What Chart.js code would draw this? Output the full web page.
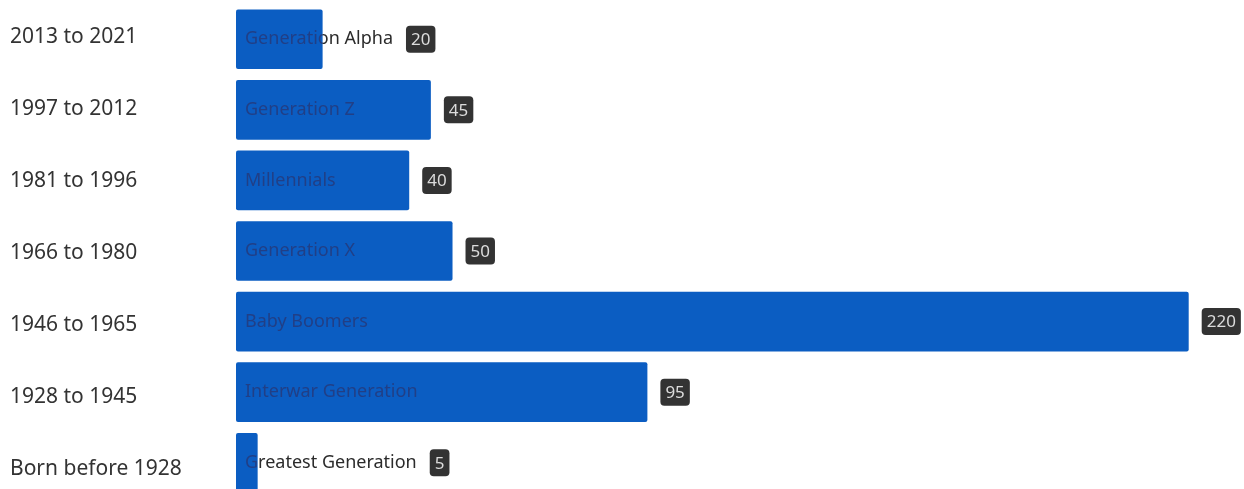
<!DOCTYPE html>
<html>
<head>
<meta charset="utf-8">
<title>Generations</title>
<script src="https://cdn.jsdelivr.net/npm/chart.js@4.4.1/dist/chart.umd.min.js"></script>
<style>
  html, body { margin: 0; padding: 0; background: #fff; overflow: hidden; }
  #wrap { width: 1244px; height: 498px; position: relative; }
</style>
</head>
<body>
<div id="wrap"><canvas id="generations"></canvas></div>
<script>
// birth year ranges, generation names and counts, top to bottom
var periods = [
  "2013 to 2021",
  "1997 to 2012",
  "1981 to 1996",
  "1966 to 1980",
  "1946 to 1965",
  "1928 to 1945",
  "Born before 1928"
];
var generations = [
  "Generation Alpha",
  "Generation Z",
  "Millennials",
  "Generation X",
  "Baby Boomers",
  "Interwar Generation",
  "Greatest Generation"
];
var counts = [20, 45, 40, 50, 220, 95, 5];

var barBlue = "#0b5dc2";
// range of the year-label axis (index units), a bit wider spacing than the bars
var periodMin = -0.458;
var periodMax = 6.403;

// writes the generation name over each bar and a dark value badge after it
var barLabels = {
  id: "barLabels",
  afterDatasetsDraw: function (chart) {
    var ctx = chart.ctx;
    var meta = chart.getDatasetMeta(0);
    var w = chart.width, h = chart.height;
    meta.data.forEach(function (bar, i) {
      var left = Math.min(bar.base, bar.x);
      var right = Math.max(bar.base, bar.x);
      var top = bar.y - bar.height / 2;
      var name = generations[i];

      ctx.save();
      ctx.font = "18px 'Noto Sans', sans-serif";
      ctx.textBaseline = "middle";
      ctx.textAlign = "left";
      var tx = left + 9;
      var textEnd = tx + ctx.measureText(name).width;

      // part of the name inside the bar
      ctx.save();
      ctx.beginPath();
      ctx.rect(left, top, right - left, bar.height);
      ctx.clip();
      ctx.fillStyle = "#213f86";
      ctx.fillText(name, tx, bar.y);
      ctx.restore();

      // part that runs past a short bar
      ctx.save();
      ctx.beginPath();
      ctx.rect(right, 0, w - right, h);
      ctx.clip();
      ctx.fillStyle = "#2b2b2b";
      ctx.fillText(name, tx, bar.y);
      ctx.restore();

      // value badge
      var txt = String(counts[i]);
      ctx.font = "17px 'Noto Sans', sans-serif";
      var bw = ctx.measureText(txt).width + 10;
      var bh = 27;
      var bx = Math.max(right, textEnd) + 13;
      var by = bar.y - bh / 2;
      ctx.fillStyle = "#333333";
      ctx.beginPath();
      ctx.roundRect(bx, by, bw, bh, 4);
      ctx.fill();
      ctx.fillStyle = "#dcdcdc";
      ctx.textAlign = "center";
      ctx.fillText(txt, bx + bw / 2, bar.y + 1);
      ctx.restore();
    });
  }
};

new Chart(document.getElementById("generations"), {
  type: "bar",
  data: {
    labels: generations,
    datasets: [{
      data: counts,
      backgroundColor: barBlue,
      borderRadius: 2,
      borderSkipped: false,
      barPercentage: 0.845,
      categoryPercentage: 1
    }]
  },
  options: {
    indexAxis: "y",
    responsive: true,
    maintainAspectRatio: false,
    devicePixelRatio: 1,
    animation: false,
    layout: { padding: { left: 10, right: 12, top: 4, bottom: 0 } },
    plugins: {
      legend: { display: false },
      tooltip: { enabled: false }
    },
    scales: {
      x: { display: false, min: 0, max: 230 },
      y: { display: false },
      period: {
        type: "linear",
        position: "left",
        reverse: true,
        offset: false,   // bar charts turn offset on for every index-side axis
        bounds: "data",
        min: periodMin,
        max: periodMax,
        grid: { display: false, offset: false },
        border: { display: false },
        afterBuildTicks: function (axis) {
          axis.ticks = periods.map(function (_, i) { return { value: i }; });
        },
        afterFit: function (axis) {
          axis.width = 226;
          axis.paddingTop = 0;
          axis.paddingBottom = 0;
        },
        ticks: {
          crossAlign: "far",
          padding: 0,
          autoSkip: false,
          color: "#333333",
          font: { family: "'Noto Sans', sans-serif", size: 21 },
          callback: function (v) { return periods[v] !== undefined ? periods[v] : ""; }
        }
      }
    }
  },
  plugins: [barLabels]
});
</script>
</body>
</html>
